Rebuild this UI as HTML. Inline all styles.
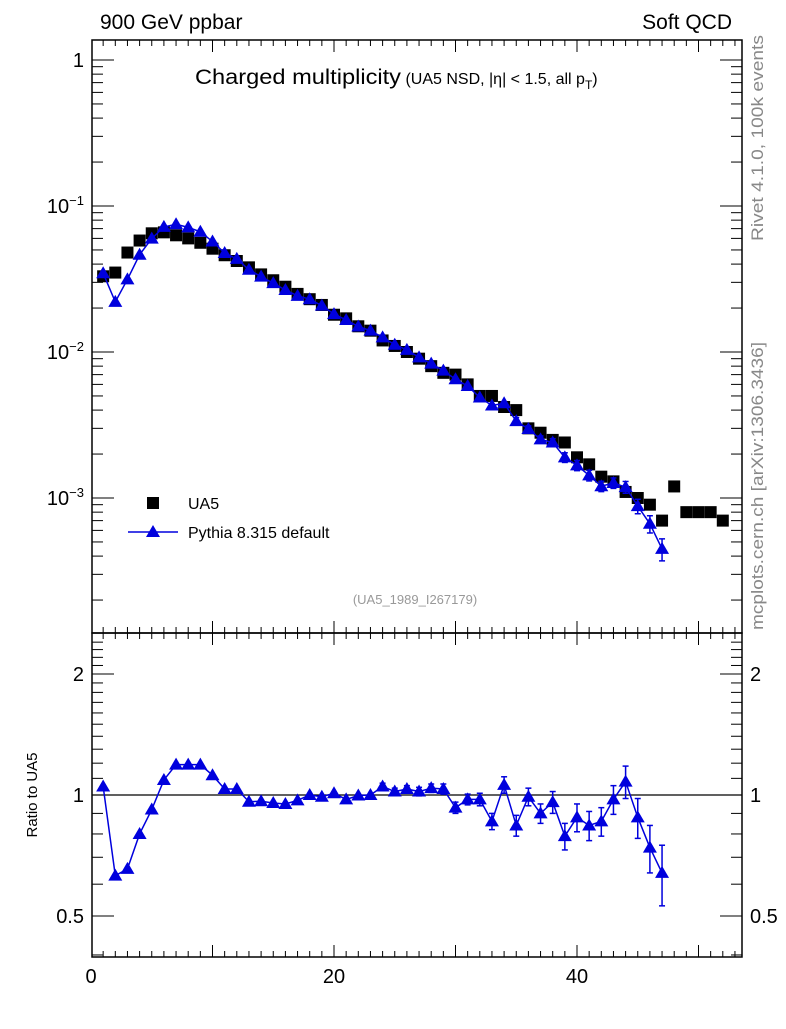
<!DOCTYPE html>
<html><head><meta charset="utf-8"><style>
body{margin:0;background:#fff;}
svg text{font-family:"Liberation Sans",sans-serif;}
</style></head><body>
<svg id="chart" width="786" height="1024" xmlns="http://www.w3.org/2000/svg">
<text x="100" y="29" font-size="21">900 GeV ppbar</text>
<text x="732" y="29" font-size="21" text-anchor="end">Soft QCD</text>
<text transform="translate(763,241) rotate(-90)" font-size="17" fill="#888" textLength="206" lengthAdjust="spacingAndGlyphs">Rivet 4.1.0,  100k events</text>
<text transform="translate(763,630) rotate(-90)" font-size="17" fill="#888" textLength="288" lengthAdjust="spacingAndGlyphs">mcplots.cern.ch [arXiv:1306.3436]</text>
<text x="195" y="84" font-size="21"><tspan textLength="206" lengthAdjust="spacingAndGlyphs">Charged multiplicity</tspan><tspan font-size="16"> (UA5 NSD, |η| &lt; 1.5, all p</tspan><tspan font-size="12" dy="5">T</tspan><tspan font-size="16" dy="-5">)</tspan></text>
<text x="415" y="604" font-size="13" fill="#999" text-anchor="middle">(UA5_1989_I267179)</text>
<text transform="translate(37,795) rotate(-90)" font-size="15" text-anchor="middle">Ratio to UA5</text>
<g id="axes"></g>
<g id="marks"></g>
<g>
<rect x="147" y="497" width="12" height="12" fill="#000"/>
<text x="188" y="509" font-size="16">UA5</text>
<line x1="128" y1="532" x2="178" y2="532" stroke="#0000dd" stroke-width="1.5"/>
<polygon points="153,525 160,537 146,537" fill="#0000dd"/>
<text x="188" y="538" font-size="16">Pythia 8.315 default</text>
</g>
</svg>
<script>
const ua5N = [1,2,3,4,5,6,7,8,9,10,11,12,13,14,15,16,17,18,19,20,21,22,23,24,25,26,27,28,29,30,31,32,33,34,35,36,37,38,39,40,41,42,43,44,45,46,47,48,49,50,51,52];
const ua5Vals = [0.033,0.035,0.048,0.058,0.065,0.066,0.063,0.060,0.056,0.051,0.046,0.042,0.038,0.034,0.031,0.028,0.025,0.023,0.021,0.018,0.017,0.015,0.014,0.012,0.011,0.010,0.0090,0.0080,0.0072,0.0070,0.0060,0.0050,0.0050,0.0042,0.0040,0.0030,0.0028,0.0025,0.0024,0.0019,0.0017,0.0014,0.0013,0.0011,0.0010,0.0009,0.0007,0.0012,0.0008,0.0008,0.0008,0.0007];
const ratioN = [1,2,3,4,5,6,7,8,9,10,11,12,13,14,15,16,17,18,19,20,21,22,23,24,25,26,27,28,29,30,31,32,33,34,35,36,37,38,39,40,41,42,43,44,45,46,47];
const ratioVals = [1.05,0.63,0.655,0.80,0.92,1.09,1.19,1.19,1.19,1.12,1.035,1.035,0.962,0.965,0.955,0.95,0.97,1.0,0.99,1.01,0.975,0.997,1.0,1.05,1.02,1.035,1.02,1.04,1.035,0.93,0.975,0.975,0.86,1.06,0.84,0.99,0.90,0.96,0.79,0.88,0.84,0.86,0.975,1.08,0.88,0.74,0.64];
const ratioErr = [0.005,0.005,0.005,0.005,0.005,0.005,0.005,0.005,0.005,0.005,0.005,0.005,0.006,0.006,0.006,0.007,0.008,0.01,0.01,0.012,0.012,0.014,0.015,0.02,0.02,0.02,0.025,0.025,0.03,0.03,0.03,0.035,0.04,0.05,0.05,0.05,0.05,0.06,0.06,0.07,0.07,0.07,0.08,0.1,0.1,0.1,0.11];
const xTicks = [0,20,40];
const mainTicks = [1,0.1,0.01,0.001];
const mainTickLabels = ["1","10<tspan font-size='13' dy='-8'>−1</tspan>","10<tspan font-size='13' dy='-8'>−2</tspan>","10<tspan font-size='13' dy='-8'>−3</tspan>"];
const ratioTicks = [2,1,0.5];
const ratioTickLabels = ["2","1","0.5"];

const NS="http://www.w3.org/2000/svg";
const L=92,R=742,T1=40,B1=633,B2=957;
const X=v=>91+v*12.15;
const Y1=v=>60-146*Math.log10(v);
const Y2=v=>795-402*Math.log10(v);
const axes=document.getElementById('axes'), marks=document.getElementById('marks');
function mk(tag,attrs,parent){const e=document.createElementNS(NS,tag);for(const k in attrs)e.setAttribute(k,attrs[k]);parent.appendChild(e);return e;}

let f1=mk('rect',{x:L,y:T1,width:R-L,height:B1-T1,fill:'none',stroke:'#000','stroke-width':1.5},axes);


let f2=mk('rect',{x:L,y:B1,width:R-L,height:B2-B1,fill:'none',stroke:'#000','stroke-width':1.5},axes);


let ref=mk('line',{x1:L,x2:R,y1:Y2(1),y2:Y2(1),stroke:'#000','stroke-width':1.2},axes);



for(let v=0;v<=53;v++){
  const x=X(v); if(x<L||x>R) continue;
  const len=(v%10===0)?12:6;
  [[B1,-1],[T1,1],[B2,-1],[B1,1]].forEach(([y,d])=>mk('line',{x1:x,x2:x,y1:y,y2:y+d*len,stroke:'#000'},axes));
}
xTicks.forEach(v=>{const t=mk('text',{x:X(v),y:B2+26,'font-size':20,'text-anchor':'middle'},axes);t.textContent=v;

});
for(let e=-4;e<=0;e++){for(let m=1;m<10;m++){const v=m*Math.pow(10,e);const y=Y1(v);if(y<T1||y>B1)continue;const len=m===1?22:11;
mk('line',{x1:L,x2:L+len,y1:y,y2:y,stroke:'#000'},axes);mk('line',{x1:R,x2:R-len,y1:y,y2:y,stroke:'#000'},axes);}}
mainTicks.forEach((v,i)=>{const t=mk('text',{x:L-8,y:Y1(v)+7,'font-size':20,'text-anchor':'end'},axes);t.innerHTML=mainTickLabels[i];

});
for(let v=0.4;v<=2.5;v+=0.1){const y=Y2(v);if(y<B1||y>B2)continue;const major=Math.abs(v-0.5)<1e-6||Math.abs(v-1)<1e-6||Math.abs(v-2)<1e-6;const len=major?22:11;
mk('line',{x1:L,x2:L+len,y1:y,y2:y,stroke:'#000'},axes);mk('line',{x1:R,x2:R-len,y1:y,y2:y,stroke:'#000'},axes);}
ratioTicks.forEach((v,i)=>{[[L-8,'end'],[R+8,'start']].forEach(([x,a])=>{const t=mk('text',{x:x,y:Y2(v)+7,'font-size':20,'text-anchor':a},axes);t.textContent=ratioTickLabels[i];

});});

ua5N.forEach((n,i)=>{const r=mk('rect',{x:X(n)-6,y:Y1(ua5Vals[i])-6,width:12,height:12,fill:'#000'},marks);

});
const blue='#0000dd';
const pv=ratioN.map((n,i)=>ua5Vals[ua5N.indexOf(n)]*ratioVals[i]);
let p1=mk('polyline',{points:ratioN.map((n,i)=>X(n)+','+Y1(pv[i])).join(' '),fill:'none',stroke:blue,'stroke-width':1.5},marks);


let p2=mk('polyline',{points:ratioN.map((n,i)=>X(n)+','+Y2(ratioVals[i])).join(' '),fill:'none',stroke:blue,'stroke-width':1.5},marks);


function tri(x,y,name){const p=mk('polygon',{points:`${x},${y-7} ${x+7},${y+5} ${x-7},${y+5}`,fill:blue},marks);

}
function err(x,y1,y2){if(Math.abs(y2-y1)<6)return;mk('line',{x1:x,x2:x,y1:y1,y2:y2,stroke:blue,'stroke-width':1.5},marks);
mk('line',{x1:x-3,x2:x+3,y1:y1,y2:y1,stroke:blue,'stroke-width':1.5},marks);mk('line',{x1:x-3,x2:x+3,y1:y2,y2:y2,stroke:blue,'stroke-width':1.5},marks);}
ratioN.forEach((n,i)=>{const x=X(n);const r=ratioVals[i],e=ratioErr[i];
err(x,Y1(pv[i]*(1+e/r)),Y1(pv[i]*(1-e/r)));tri(x,Y1(pv[i]),'pythia-point');
err(x,Y2(r+e),Y2(r-e));tri(x,Y2(r),'ratio-point');});
</script>
</body></html>
